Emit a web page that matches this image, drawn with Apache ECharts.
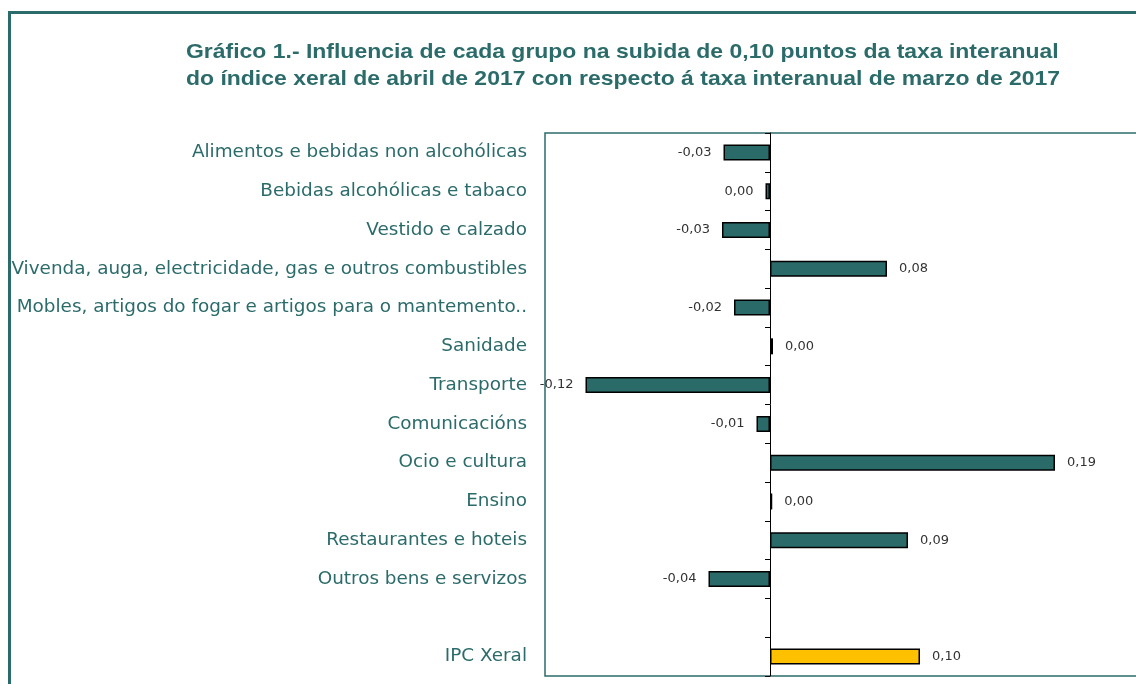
<!DOCTYPE html>
<html>
<head>
<meta charset="utf-8">
<style>
  html, body { margin: 0; padding: 0; background: #ffffff; overflow: hidden; }
  #chart { width: 1200px; height: 684px; }
</style>
<script src="https://cdn.jsdelivr.net/npm/echarts@6/dist/echarts.min.js"></script>
</head>
<body>
<div id="chart"></div>
<script>
// categorías (o baleiro deixa o oco antes do IPC xeral)
const categories = [
  'Alimentos e bebidas non alcohólicas',
  'Bebidas alcohólicas e tabaco',
  'Vestido e calzado',
  'Vivenda, auga, electricidade, gas e outros combustibles',
  'Mobles, artigos do fogar e artigos para o mantemento..',
  'Sanidade',
  'Transporte',
  'Comunicacións',
  'Ocio e cultura',
  'Ensino',
  'Restaurantes e hoteis',
  'Outros bens e servizos',
  '',
  'IPC Xeral'
];
const influence = [-0.031, -0.003, -0.032, 0.078, -0.024, 0.002, -0.123, -0.009, 0.19, 0.0015, 0.092, -0.041, null, 0.100];
const totalName = 'IPC Xeral';
const titleLines = [
  'Gráfico 1.- Influencia de cada grupo na subida de 0,10 puntos da taxa interanual',
  'do índice xeral de abril de 2017 con respecto á taxa interanual de marzo de 2017'
];

const teal = '#2b6b6a';
const barTeal = '#2a6a68';

const fmt = (v) => {
  if (Math.abs(v) < 0.005) return '0,00';
  return v.toFixed(2).replace('.', ',');
};

const seriesData = influence.map((v, i) => {
  if (v === null) return null;
  return {
    value: v,
    itemStyle: categories[i] === totalName ? { color: '#ffc000' } : undefined,
    label: { position: v < 0 ? 'left' : 'right' }
  };
});

const chart = echarts.init(document.getElementById('chart'));
const option = {
  animation: false,
  backgroundColor: '#ffffff',
  graphic: [
    {
      type: 'rect',
      shape: { x: 9.5, y: 12.5, width: 1300, height: 900 },
      style: { fill: 'none', stroke: teal, lineWidth: 3 },
      silent: true
    },
    {
      // o título vai algo estirado en horizontal, coma no orixinal
      type: 'text',
      x: 186,
      y: 39,
      scaleX: 1.12,
      style: {
        text: titleLines.join('\n'),
        font: 'bold 20.5px "Liberation Sans", Arial, sans-serif',
        fill: teal,
        lineHeight: 27
      },
      silent: true
    }
  ],
  grid: {
    left: 545,
    top: 133,
    width: 600,
    height: 543,
    show: true,
    borderColor: teal,
    borderWidth: 1.5,
    containLabel: false
  },
  xAxis: {
    type: 'value',
    min: -0.15,
    max: 0.25,
    axisLine: { show: false },
    axisTick: { show: false },
    axisLabel: { show: false },
    splitLine: { show: false }
  },
  yAxis: [
    {
      type: 'category',
      data: categories,
      inverse: true,
      position: 'left',
      axisLine: { show: false, onZero: false },
      axisTick: { show: false },
      axisLabel: {
        margin: 18,
        fontFamily: 'DejaVu Sans, sans-serif',
        fontSize: 18.4,
        color: teal
      }
    },
    {
      type: 'category',
      data: categories,
      inverse: true,
      position: 'left',
      axisLine: { show: true, onZero: true, lineStyle: { color: '#000000', width: 1 } },
      axisTick: { show: true, inside: false, length: 5, alignWithLabel: false, lineStyle: { color: '#000000' } },
      axisLabel: { show: false }
    }
  ],
  series: [{
    type: 'bar',
    yAxisIndex: 0,
    data: seriesData,
    barWidth: 16,
    itemStyle: { color: barTeal, borderColor: '#000000', borderWidth: 1.5 },
    label: {
      show: true,
      distance: 12,
      fontFamily: 'DejaVu Sans, sans-serif',
      fontSize: 13,
      color: '#333333',
      formatter: (p) => fmt(p.value)
    }
  }]
};
chart.setOption(option);
</script>
</body>
</html>
